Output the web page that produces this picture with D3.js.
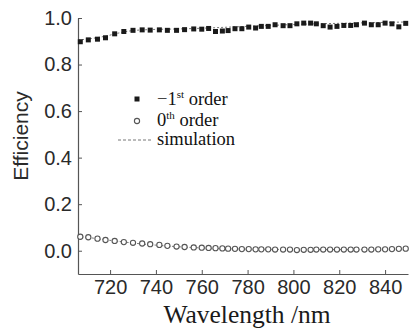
<!DOCTYPE html>
<html>
<head>
<meta charset="utf-8">
<script src="https://cdn.jsdelivr.net/npm/d3@7"></script>
<style>
  body { margin: 0; background: #fff; }
  svg { display: block; }
  .tick text { font-family: "Liberation Sans", Arial, sans-serif; fill: #2a2a2a; }
</style>
</head>
<body>
<div id="chart"></div>
<script>
// wavelength samples (nm) shared by both measured orders
const wavelengths = [707, 710.5, 714.5, 718, 722, 726, 730, 734, 737.5, 741.5, 745, 749, 752.5, 756.5,
  760, 763, 766, 769, 771.5, 774.5, 777.5, 780.5, 783.5, 786, 789, 792, 795.5, 798.5, 801.5, 804.5,
  807.5, 810, 813, 816, 819, 822, 825, 827.5, 831, 834, 837, 840, 843, 846, 849];

const minusFirst = [0.898, 0.906, 0.909, 0.915, 0.932, 0.942, 0.947, 0.949, 0.948, 0.949, 0.947, 0.947, 0.950, 0.953,
  0.952, 0.955, 0.942, 0.944, 0.946, 0.954, 0.954, 0.961, 0.957, 0.964, 0.964, 0.971, 0.967, 0.967, 0.975, 0.978,
  0.978, 0.975, 0.967, 0.961, 0.964, 0.968, 0.968, 0.971, 0.978, 0.971, 0.971, 0.978, 0.975, 0.962, 0.977];

const zeroth = [0.060, 0.058, 0.052, 0.046, 0.042, 0.037, 0.034, 0.031, 0.028, 0.025, 0.021, 0.018, 0.016, 0.014,
  0.013, 0.012, 0.011, 0.010, 0.009, 0.008, 0.007, 0.007, 0.006, 0.006, 0.006, 0.005, 0.005, 0.005, 0.003, 0.004,
  0.004, 0.005, 0.005, 0.005, 0.005, 0.005, 0.005, 0.005, 0.005, 0.005, 0.006, 0.006, 0.007, 0.008, 0.009];

// simulation curves
const simWl = [706, 712, 718, 724, 730, 740, 750, 760, 770, 780, 790, 800, 810, 820, 830, 840, 850];
const simUpper = [0.905, 0.912, 0.922, 0.936, 0.946, 0.951, 0.953, 0.956, 0.960, 0.964, 0.968, 0.972, 0.975, 0.977, 0.979, 0.981, 0.983];
const simLower = [0.062, 0.055, 0.047, 0.040, 0.033, 0.024, 0.017, 0.012, 0.009, 0.007, 0.006, 0.005, 0.005, 0.005, 0.005, 0.006, 0.007];

const xTicks = [720, 740, 760, 780, 800, 820, 840];
const yTicks = [0.0, 0.2, 0.4, 0.6, 0.8, 1.0];

const W = 414, H = 328;
const margin = { top: 18, right: 6, bottom: 54, left: 78 };
const width = W - margin.left - margin.right;
const height = H - margin.top - margin.bottom;

const svg = d3.select('#chart').append('svg')
  .attr('width', W)
  .attr('height', H);

const g = svg.append('g')
  .attr('transform', `translate(${margin.left},${margin.top})`);

const x = d3.scaleLinear().domain([706, 850]).range([0, width]);
const y = d3.scaleLinear().domain([-0.1, 1.0]).range([height, 0]);

// Axes (ticks point inward)
const xAxis = g.append('g')
  .attr('transform', `translate(0,${height})`)
  .call(d3.axisBottom(x).tickValues(xTicks).tickSizeInner(-4).tickSizeOuter(0).tickPadding(6).tickFormat(d3.format('d')));
xAxis.selectAll('.tick text').attr('font-size', 20);

const yAxis = g.append('g')
  .call(d3.axisLeft(y).tickValues(yTicks).tickSizeInner(-4).tickSizeOuter(0).tickPadding(6).tickFormat(d3.format('.1f')));
yAxis.selectAll('.tick text').attr('font-size', 20);

g.selectAll('.domain').attr('stroke', '#555').attr('stroke-width', 1.2);
g.selectAll('.tick line').attr('stroke', '#555');

// Simulation lines
const simLine = d3.line().x(d => x(d[0])).y(d => y(d[1])).curve(d3.curveMonotoneX);

g.append('path')
  .datum(simWl.map((w, i) => [w, simUpper[i]]))
  .attr('d', simLine)
  .attr('fill', 'none')
  .attr('stroke', '#777')
  .attr('stroke-width', 1)
  .attr('stroke-dasharray', '2,2');

g.append('path')
  .datum(simWl.map((w, i) => [w, simLower[i]]))
  .attr('d', simLine)
  .attr('fill', 'none')
  .attr('stroke', '#777')
  .attr('stroke-width', 1)
  .attr('stroke-dasharray', '2,1.5');

// -1st order squares
const sq = 5;
g.append('g').selectAll('rect')
  .data(wavelengths.map((w, i) => [w, minusFirst[i]]))
  .join('rect')
  .attr('x', d => x(d[0]) - sq / 2)
  .attr('y', d => y(d[1]) - sq / 2)
  .attr('width', sq)
  .attr('height', sq)
  .attr('fill', '#1a1a1a');

// 0th order circles
g.append('g').selectAll('circle')
  .data(wavelengths.map((w, i) => [w, zeroth[i]]))
  .join('circle')
  .attr('cx', d => x(d[0]))
  .attr('cy', d => y(d[1]))
  .attr('r', 2.6)
  .attr('fill', '#fff')
  .attr('stroke', '#555')
  .attr('stroke-width', 1.1);

// Axis titles
svg.append('text')
  .attr('x', 247)
  .attr('y', 323)
  .attr('text-anchor', 'middle')
  .attr('font-family', '"Liberation Serif", "Times New Roman", serif')
  .attr('font-size', 25.5)
  .attr('fill', '#1a1a1a')
  .text('Wavelength /nm');

svg.append('text')
  .attr('transform', 'translate(28,136) rotate(-90)')
  .attr('text-anchor', 'middle')
  .attr('font-family', '"Liberation Sans", Arial, sans-serif')
  .attr('font-size', 21)
  .attr('fill', '#2a2a2a')
  .text('Efficiency');

// Legend
const legend = svg.append('g')
  .attr('font-family', '"Liberation Serif", "Times New Roman", serif')
  .attr('font-size', 18.5)
  .attr('fill', '#111');

legend.append('rect')
  .attr('x', 134.5).attr('y', 96.5).attr('width', 5).attr('height', 5)
  .attr('fill', '#1a1a1a');
const t1 = legend.append('text').attr('x', 157).attr('y', 105);
t1.append('tspan').text('\u22121');
t1.append('tspan').attr('font-size', 11).attr('dy', -7).text('st');
t1.append('tspan').attr('dy', 7).text(' order');

legend.append('circle')
  .attr('cx', 137).attr('cy', 121).attr('r', 2.6)
  .attr('fill', '#fff').attr('stroke', '#555').attr('stroke-width', 1.1);
const t2 = legend.append('text').attr('x', 157).attr('y', 126);
t2.append('tspan').text('0');
t2.append('tspan').attr('font-size', 11).attr('dy', -7).text('th');
t2.append('tspan').attr('dy', 7).text(' order');

legend.append('line')
  .attr('x1', 118).attr('x2', 153).attr('y1', 140).attr('y2', 140)
  .attr('stroke', '#777').attr('stroke-width', 1).attr('stroke-dasharray', '3,2');
legend.append('text').attr('x', 157).attr('y', 145).text('simulation');
</script>
</body>
</html>
